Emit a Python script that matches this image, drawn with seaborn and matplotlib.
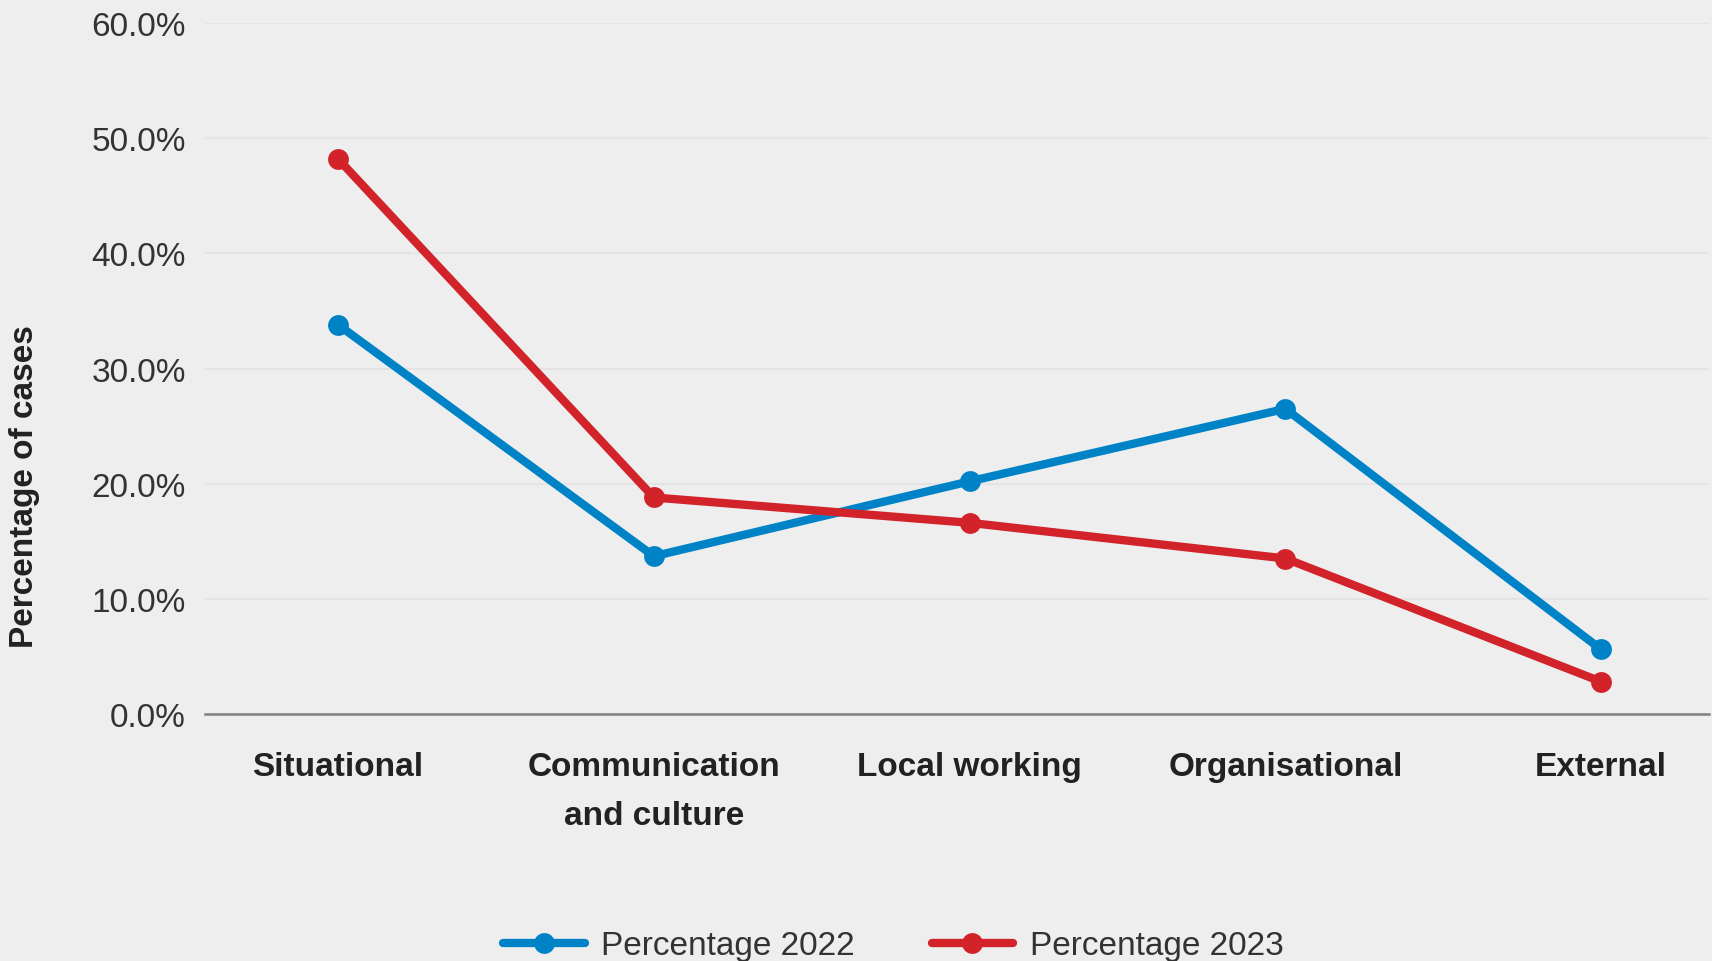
import matplotlib
matplotlib.use("Agg")
import matplotlib.pyplot as plt
import matplotlib.ticker as mticker
from matplotlib.lines import Line2D
import seaborn as sns
import pandas as pd

categories = ["Situational", "Communication\nand culture", "Local working",
              "Organisational", "External"]
pct_2022 = [0.338, 0.137, 0.202, 0.265, 0.056]
pct_2023 = [0.482, 0.188, 0.166, 0.135, 0.028]
series_names = ["Percentage 2022", "Percentage 2023"]
colors = ["#0083C6", "#D2232A"]
yticks = [0.0, 0.1, 0.2, 0.3, 0.4, 0.5, 0.6]

df = pd.DataFrame({
    "category": categories * 2,
    "value": pct_2022 + pct_2023,
    "series": [series_names[0]] * len(categories) + [series_names[1]] * len(categories),
})

sns.set_theme(style="white")
plt.rcParams["font.family"] = ["Liberation Sans", "DejaVu Sans"]

bg = "#EEEEEE"
fig = plt.figure(figsize=(17.12, 9.62), dpi=100, facecolor=bg)
ax = fig.add_axes([0.12, 0.2568, 0.878, 0.7182])
ax.set_facecolor(bg)

sns.lineplot(data=df, x="category", y="value", hue="series", sort=False,
             palette=colors, linewidth=6, marker="o", markersize=15,
             markeredgewidth=0, ax=ax, legend=False)

ax.set_ylim(0, 0.6)
ax.set_xlim(-0.42, 4.34)
ax.set_yticks(yticks)
ax.yaxis.set_major_formatter(mticker.FuncFormatter(lambda v, p: f"{v*100:.1f}%"))
ax.grid(axis="y", color="#E4E4E4", linewidth=1.5)
ax.grid(axis="x", visible=False)
ax.set_axisbelow(True)
for side in ["top", "right", "left"]:
    ax.spines[side].set_visible(False)
ax.spines["bottom"].set_color("#808080")
ax.spines["bottom"].set_linewidth(1.8)

ax.tick_params(axis="y", length=0, pad=14, labelsize=24, labelcolor="#333333")
ax.tick_params(axis="x", length=0, pad=27, labelsize=24, labelcolor="#222222")
for lbl in ax.get_xticklabels():
    lbl.set_fontweight("bold")
    lbl.set_linespacing(1.75)

ax.set_xlabel("")
ax.set_ylabel("Percentage of cases", fontsize=24, fontweight="bold",
              color="#222222")
ax.yaxis.set_label_coords(-0.11, 0.33)

handles = [Line2D([0], [0], color=c, linewidth=6, marker="o", markersize=15,
                  markeredgewidth=0) for c in colors]
fig.legend(handles, series_names, loc="center left",
           bbox_to_anchor=(503 / 1712, 1 - 947 / 962), ncol=2, frameon=False,
           fontsize=24, handlelength=2.45, handletextpad=0.5,
           columnspacing=2.3, borderpad=0, borderaxespad=0,
           labelcolor="#333333")

fig.savefig("out.png", dpi=100, facecolor=bg)
